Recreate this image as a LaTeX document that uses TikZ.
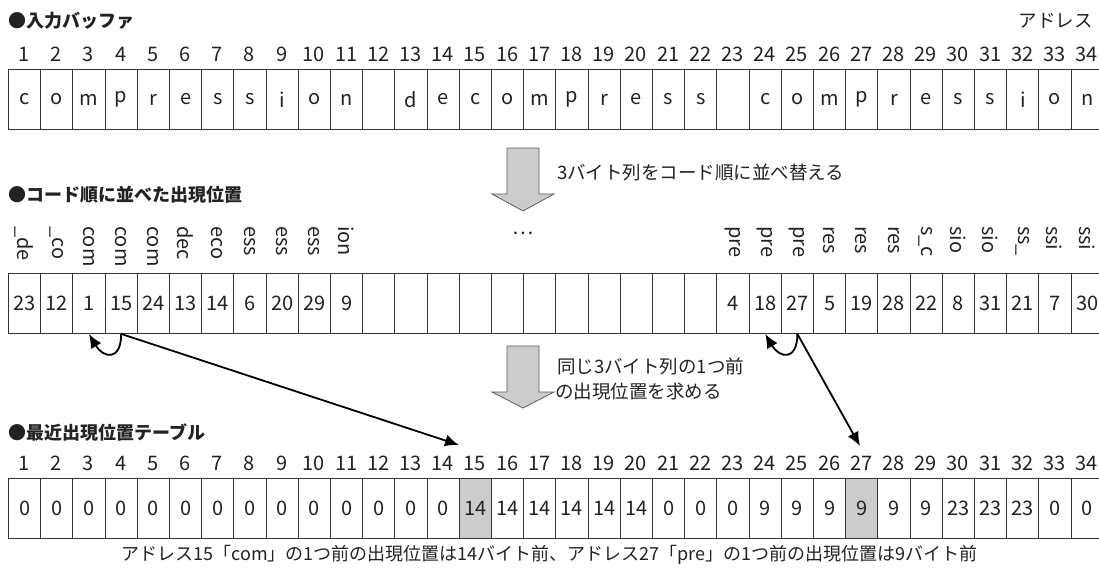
\documentclass[tikz,border=0pt]{standalone}
\usepackage{fontspec}
\setmainfont{Noto Sans CJK JP}
\usetikzlibrary{arrows.meta}
\definecolor{ink}{HTML}{222222}
\definecolor{hl}{HTML}{CCCCCC}
\definecolor{edge}{HTML}{333333}
\begin{document}
\begin{tikzpicture}[x=1pt,y=-1pt,
  cell/.style={draw=edge, line width=0.9pt, minimum width=32.2pt, minimum height=60pt,
    inner sep=0pt, anchor=north west, text=ink, font=\fontsize{20}{20}\selectfont},
  num/.style={inner sep=0pt, text=ink, font=\fontsize{20}{20}\selectfont},
  vlabel/.style={inner sep=0pt, rotate=-90, anchor=west, text=ink, font=\fontsize{20}{20}\selectfont},
  title/.style={inner sep=0pt, anchor=west, text=ink, font=\fontsize{18}{18}\selectfont\bfseries},
  note/.style={inner sep=0pt, anchor=west, text=ink, font=\fontsize{18.5}{18.5}\selectfont},
  bigarr/.style={fill=hl, draw=edge!80, line width=0.8pt, line join=miter},
  link/.style={draw=black, line width=1.8pt, -{Latex[length=14pt,width=12pt]}},
  hlcell/.style={cell, fill=hl}]
\useasboundingbox (0,0) rectangle (1099,568);

% ---- titles ----
\node[title] (t1) at (8,21) {●入力バッファ};
\node[note, anchor=east] (addr) at (1093,21) {アドレス};
\node[title] (t2) at (8,195) {●コード順に並べた出現位置};
\node[title] (t3) at (8,433) {●最近出現位置テーブル};

% ---- row 1: input buffer ----
\foreach \i in {1,...,34}{
  \node[num] (n\i) at ({8+(\i-0.5)*32.2},54) {\i};
}
\foreach \t [count=\i] in {c,o,m,p,r,e,s,s,i,o,n,{},d,e,c,o,m,p,r,e,s,s,{},c,o,m,p,r,e,s,s,i,o,n}{
  \node[cell] (a\i) at ({8+(\i-1)*32.2},69) {\t};
}

% ---- big arrow 1 ----
\draw[bigarr] (507,148) -- (539,148) -- (539,194) -- (554,194) -- (523,211)
  -- (492,194) -- (507,194) -- cycle;
\node[note] (s1) at (557,172) {3バイト列をコード順に並べ替える};

% ---- row 2: sorted positions ----
\foreach \t [count=\i] in {\_de,\_co,com,com,com,dec,eco,ess,ess,ess,ion}{
  \node[vlabel] (l\i) at ({8+(\i-0.5)*32.2},226) {\t};
}
\foreach \t [count=\k] in {pre,pre,pre,res,res,res,s\_c,sio,sio,ss\_,ssi,ssi}{
  \pgfmathtruncatemacro{\j}{\k+22}
  \node[vlabel] (l\j) at ({8+(\j-0.5)*32.2},226) {\t};
}
\node[num] (dots) at (523,233) {…};
\foreach \t [count=\i] in {23,12,1,15,24,13,14,6,20,29,9,{},{},{},{},{},{},{},{},{},{},{},4,18,27,5,19,28,22,8,31,21,7,30}{
  \node[cell] (b\i) at ({8+(\i-1)*32.2},273) {\t};
}

% ---- links ----
\coordinate (e15) at (459,445);
\coordinate (e27) at (860,446);
\draw[link] (b4.south) .. controls +(0,28) and +(14,24) .. (b3.south);
\draw[link] (b4.south) -- (e15);
\draw[link] (b25.south) .. controls +(0,28) and +(14,24) .. (b24.south);
\draw[link] (b25.south) -- (e27);

% ---- big arrow 2 ----
\draw[bigarr] (507,346) -- (539,346) -- (539,392) -- (554,392) -- (523,408)
  -- (492,392) -- (507,392) -- cycle;
\node[note] (s2a) at (557,366) {同じ3バイト列の1つ前};
\node[note] (s2b) at (555,392) {の出現位置を求める};

% ---- row 3: recent position table ----
\foreach \i in {1,...,34}{
  \node[num] (m\i) at ({8+(\i-0.5)*32.2},463) {\i};
}
\foreach \t [count=\i] in {0,0,0,0,0,0,0,0,0,0,0,0,0,0,14,14,14,14,14,14,0,0,0,9,9,9,9,9,9,23,23,23,0,0}{
  \ifnum\i=15 \def\cs{hlcell}\else\ifnum\i=27 \def\cs{hlcell}\else\def\cs{cell}\fi\fi
  \node[\cs] (c\i) at ({8+(\i-1)*32.2},478) {\t};
}

% ---- caption ----
\node[inner sep=0pt, text=ink, font=\fontsize{18}{18}\selectfont] (cap) at (549.5,555) {アドレス15「com」の1つ前の出現位置は14バイト前、アドレス27「pre」の1つ前の出現位置は9バイト前};
\end{tikzpicture}
\end{document}
